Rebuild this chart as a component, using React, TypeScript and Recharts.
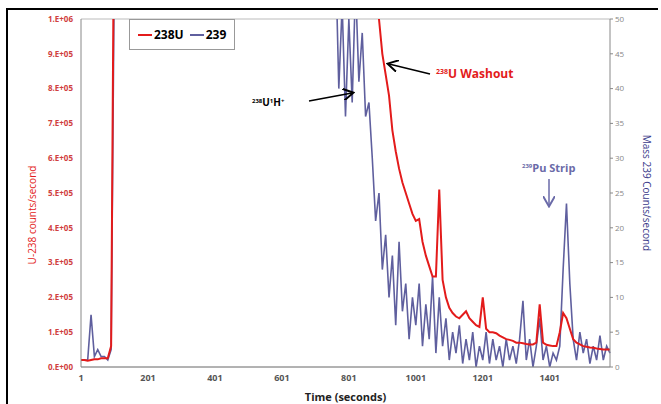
import React from "react"
import { LineChart, Line, XAxis, YAxis, CartesianGrid } from "recharts"

// time axis, one sample every 10 s
const times = Array.from({ length: 159 }, (_, i) => 1 + 10 * i)

const u238 = [
  20000, 20000, 18000, 20000, 22000, 22000, 25000, 25000, 25000, 60000,
  1500000, 1500000, 1500000, 1500000, 1500000, 1500000, 1500000, 1500000, 1500000, 1500000,
  1500000, 1500000, 1500000, 1500000, 1500000, 1500000, 1500000, 1500000, 1500000, 1500000,
  1500000, 1500000, 1500000, 1500000, 1500000, 1500000, 1500000, 1500000, 1500000, 1500000,
  1500000, 1500000, 1500000, 1500000, 1500000, 1500000, 1500000, 1500000, 1500000, 1500000,
  1500000, 1500000, 1500000, 1500000, 1500000, 1500000, 1500000, 1500000, 1500000, 1500000,
  1500000, 1500000, 1500000, 1500000, 1500000, 1500000, 1500000, 1500000, 1500000, 1500000,
  1500000, 1500000, 1500000, 1500000, 1500000, 1500000, 1500000, 1500000, 1500000, 1500000,
  1500000, 1500000, 1500000, 1500000, 1500000, 1500000, 1500000, 1500000, 1200000, 1000000,
  900000, 840000, 780000, 680000, 620000, 570000, 530000, 500000, 470000, 440000,
  420000, 425000, 360000, 320000, 290000, 260000, 260000, 510000, 250000, 200000,
  170000, 155000, 145000, 140000, 150000, 160000, 140000, 130000, 120000, 115000,
  200000, 110000, 100000, 100000, 97000, 90000, 85000, 80000, 78000, 75000,
  70000, 70000, 68000, 66000, 65000, 65000, 70000, 180000, 70000, 64000,
  62000, 60000, 60000, 100000, 155000, 140000, 110000, 80000, 70000, 65000,
  60000, 58000, 56000, 55000, 53000, 52000, 50000, 50000, 50000,
]

const mass239 = [
  1, 1, 1, 7.5, 1.5, 2.5, 1.5, 1.5, 1, 2.5,
  60, 60, 60, 60, 60, 60, 60, 60, 60, 60,
  60, 60, 60, 60, 60, 60, 60, 60, 60, 60,
  60, 60, 60, 60, 60, 60, 60, 60, 60, 60,
  60, 60, 60, 60, 60, 60, 60, 60, 60, 60,
  60, 60, 60, 60, 60, 60, 60, 60, 60, 60,
  60, 60, 60, 60, 60, 60, 60, 60, 60, 60,
  60, 60, 60, 60, 60, 60, 60, 40, 52, 36,
  50, 38, 55, 41, 48, 36, 38, 30, 21, 25,
  14, 19, 10, 16, 6, 18, 8, 12, 4, 10,
  6, 12, 3, 9, 4, 13, 2, 10, 3, 7,
  1, 5, 2, 6, 0.5, 4, 1, 5, 0, 3,
  1, 5, 0.5, 4, 1, 3, 0, 4, 1, 3,
  0.5, 4, 9.5, 1, 4, 0, 3, 7, 1, 3,
  0, 2, 1, 3, 14, 23.5, 12, 4, 1, 5,
  2, 4, 0.5, 3, 1, 4.5, 1, 3, 2,
]

const xTicks = [1, 201, 401, 601, 801, 1001, 1201, 1401]
const leftTicks = [0, 100000, 200000, 300000, 400000, 500000, 600000, 700000, 800000, 900000, 1000000]
const rightTicks = [0, 5, 10, 15, 20, 25, 30, 35, 40, 45, 50]

const data = times.map((t, i) => ({ t, u238: u238[i], m239: mass239[i] }))

const RED = "#e31b1b"
const BLUE = "#5f5f9e"
const font = "Open Sans, sans-serif"

const sci = (v: number) => (v === 0 ? "0.E+00" : `${v / Math.pow(10, Math.floor(Math.log10(v)))}.E+0${Math.floor(Math.log10(v))}`)

export default function App() {
  return (
    <div style={{ position: "absolute", left: 0, top: 0, width: 661, height: 404, background: "#fff" }}>
      <div style={{ position: "absolute", left: 6, top: 8, width: 650, height: 396, borderTop: "2px solid #000", borderLeft: "2px solid #000" }} />
      <LineChart width={661} height={404} data={data} margin={{ top: 19, right: 6, bottom: 17, left: 20 }}>
        <CartesianGrid vertical={false} stroke="#bbb" />
        <XAxis dataKey="t" type="number" domain={[1, 1581]} ticks={xTicks} tick={{ fontSize: 9, fontWeight: 700, fill: "#555", fontFamily: font }} tickLine={false} axisLine={{ stroke: "#888" }} height={20}
          label={{ value: "Time (seconds)", position: "insideBottom", offset: -14, fontSize: 11, fontWeight: 700, fill: "#222", fontFamily: font }} />
        <YAxis yAxisId="l" domain={[0, 1000000]} ticks={leftTicks} allowDataOverflow tickFormatter={sci} width={61} tick={{ fontSize: 8, fontWeight: 700, fill: "#d04040", fontFamily: font }} tickLine={false} axisLine={{ stroke: "#888" }} />
        <YAxis yAxisId="r" orientation="right" domain={[0, 50]} ticks={rightTicks} allowDataOverflow width={45} tick={{ fontSize: 8, fill: "#888", fontFamily: font }} tickLine={{ stroke: "#888" }} tickSize={3} axisLine={{ stroke: "#888" }} />
        <Line yAxisId="r" dataKey="m239" stroke={BLUE} strokeWidth={1.6} dot={false} isAnimationActive={false} />
        <Line yAxisId="l" dataKey="u238" stroke={RED} strokeWidth={2} dot={false} isAnimationActive={false} />
      </LineChart>
      <div style={{ position: "absolute", left: 129, top: 19, border: "1px solid #999", background: "#fff", padding: "6px 8px", display: "flex", gap: 6, fontSize: 12, fontWeight: 700, fontFamily: font }}>
        <span style={{ display: "flex", alignItems: "center" }}>
          <span style={{ width: 14, height: 2, background: RED, marginRight: 2 }} />238U
        </span>
        <span style={{ display: "flex", alignItems: "center" }}>
          <span style={{ width: 14, height: 2, background: BLUE, marginRight: 2 }} />239
        </span>
      </div>
      <svg width={661} height={404} style={{ position: "absolute", left: 0, top: 0, pointerEvents: "none", fontFamily: font }}>
        <defs>
          <marker id="ah" markerWidth="8" markerHeight="8" refX="6" refY="4" orient="auto">
            <path d="M0,0 L7,4 L0,8" fill="none" stroke="#000" strokeWidth={1.3} />
          </marker>
          <marker id="ah2" markerWidth="8" markerHeight="8" refX="6" refY="4" orient="auto">
            <path d="M0,0 L7,4 L0,8" fill="none" stroke="#6a6aa8" strokeWidth={1.3} />
          </marker>
        </defs>
        <text transform="translate(36,215) rotate(-90)" textAnchor="middle" fontSize={10} fill={RED}>U-238 counts/second</text>
        <text transform="translate(643,193) rotate(90)" textAnchor="middle" fontSize={10} fill="#3a3a8a">Mass 239 Counts/second</text>
        <text x={252} y={106} fontSize={10} fontWeight={700}>
          <tspan fontSize={6} dy={-3}>238</tspan><tspan dy={3}>U</tspan><tspan fontSize={6} dy={-3}>1</tspan><tspan dy={3}>H</tspan><tspan fontSize={6} dy={-3}>+</tspan>
        </text>
        <line x1={309} y1={101} x2={352} y2={93} stroke="#000" strokeWidth={1.5} markerEnd="url(#ah)" />
        <text x={436} y={78} fontSize={12} fontWeight={700} fill={RED}>
          <tspan fontSize={7} dy={-4}>238</tspan><tspan dy={4}>U Washout</tspan>
        </text>
        <line x1={430} y1={74} x2={389} y2={64} stroke="#000" strokeWidth={1.5} markerEnd="url(#ah)" />
        <text x={522} y={172} fontSize={11} fontWeight={700} fill="#6a6aa8">
          <tspan fontSize={6} dy={-4}>239</tspan><tspan dy={4}>Pu Strip</tspan>
        </text>
        <line x1={549} y1={179} x2={549} y2={205} stroke="#6a6aa8" strokeWidth={1.5} markerEnd="url(#ah2)" />
      </svg>
    </div>
  )
}
